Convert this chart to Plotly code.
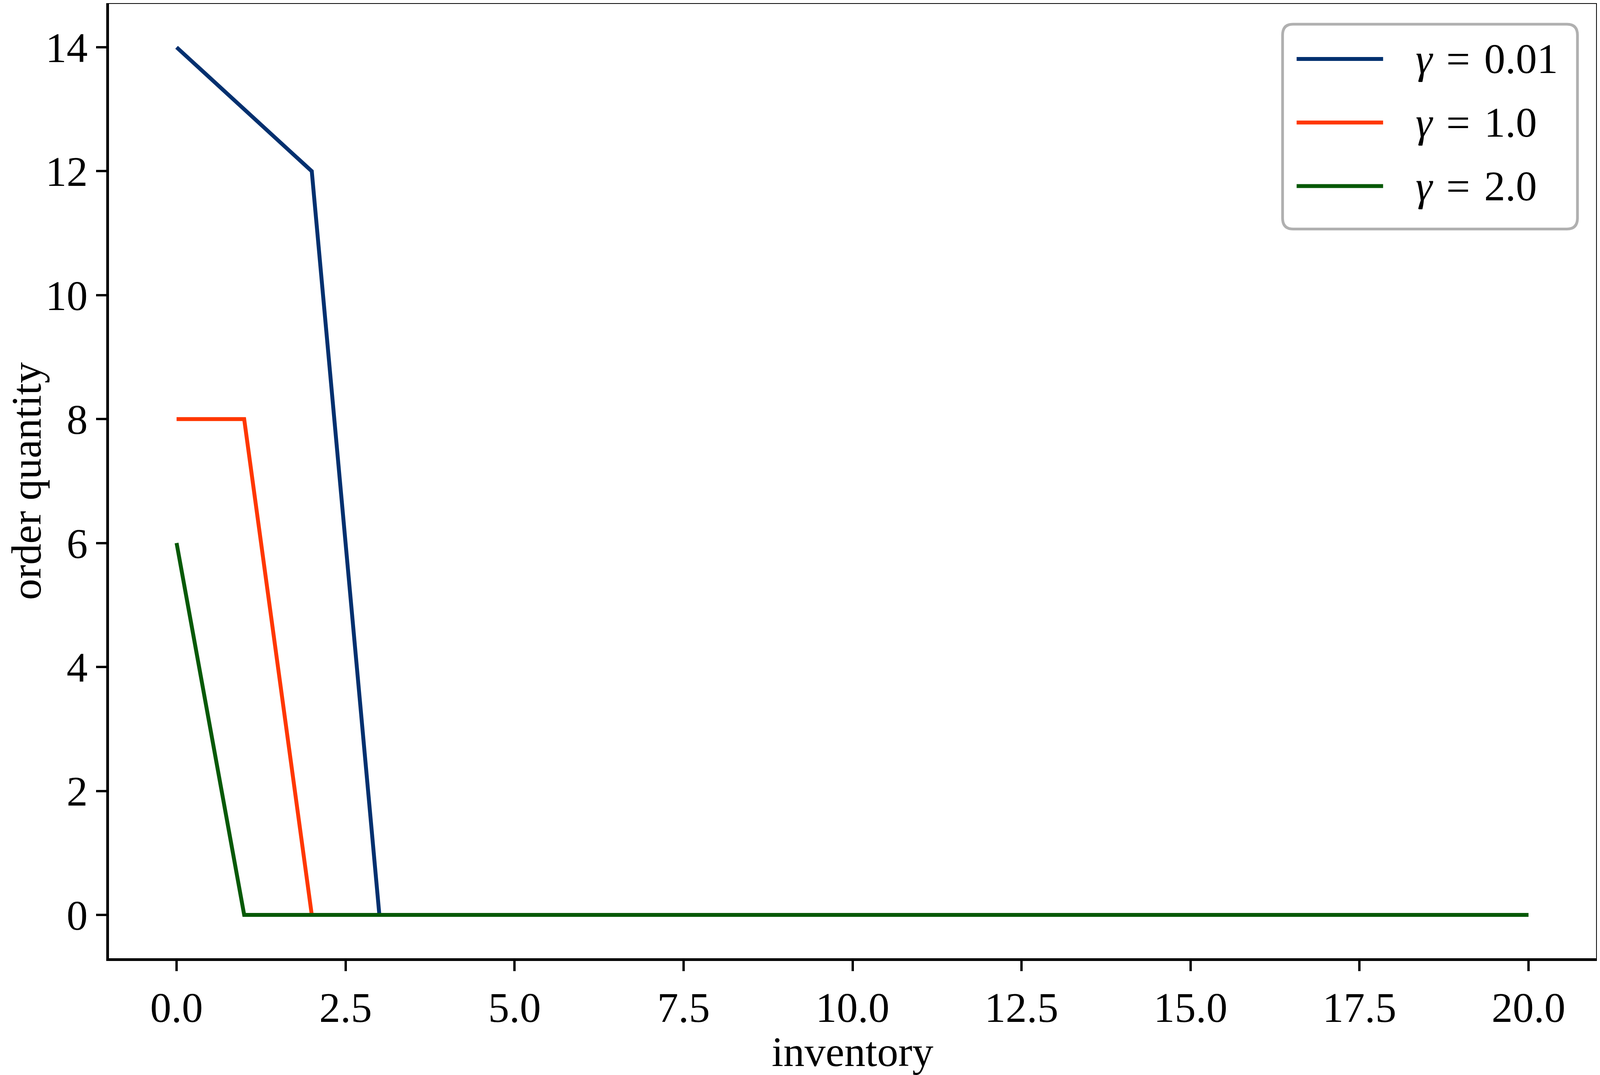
import plotly.graph_objects as go

# policy: order quantity per inventory level
inventory = list(range(21))
order_g001 = [14, 13, 12, 0] + [0] * 17
order_g1 = [8, 8, 0] + [0] * 18
order_g2 = [6, 0] + [0] * 19

series_labels = ["<i>γ</i>\u2004=\u20040.01", "<i>γ</i>\u2004=\u20041.0", "<i>γ</i>\u2004=\u20042.0"]
series_colors = ["#02306f", "#ff3700", "#075907"]
x_ticks = [0, 2.5, 5, 7.5, 10, 12.5, 15, 17.5, 20]
y_ticks = [0, 2, 4, 6, 8, 10, 12, 14]

# positions measured on the 4552x2753 reference; the browser viewport is
# 4096 css px wide, so horizontal sizes are squeezed by SX. body margin is 8px.
SX = 4096 / 4552
BODY = 8
FIG_W, FIG_H = 4096 - BODY, 2753 - BODY
L, R, T, B = 310, 4541, 8, 2454
FONT = "Liberation Serif"
FS = 108


def px_x(p):
    return (p - L) / (R - L)


def px_y(p):
    return (B - p) / (B - T)


fig = go.Figure()
for ys, name, color in zip([order_g001, order_g1, order_g2], series_labels, series_colors):
    fig.add_trace(go.Scatter(x=inventory, y=ys, mode="lines", name=name,
                             line=dict(color=color, width=10), showlegend=False))

# legend drawn by hand so it gets matplotlib's long samples and rounded frame
x0, x1, y0, y1 = px_x(3649), px_x(4488), px_y(60), px_y(585)
rx, ry = 30 / (R - L), 28 / (B - T)
path = (f"M{x0 + rx},{y0} L{x1 - rx},{y0} Q{x1},{y0} {x1},{y0 - ry} "
        f"L{x1},{y1 + ry} Q{x1},{y1} {x1 - rx},{y1} L{x0 + rx},{y1} "
        f"Q{x0},{y1} {x0},{y1 + ry} L{x0},{y0 - ry} Q{x0},{y0} {x0 + rx},{y0} Z")
fig.add_shape(type="path", path=path, xref="paper", yref="paper",
              line=dict(color="#b0b0b0", width=7), fillcolor="rgba(255,255,255,0.8)")
for i, (name, color) in enumerate(zip(series_labels, series_colors)):
    row = px_y(149 + 163 * i)
    fig.add_shape(type="line", xref="paper", yref="paper", x0=px_x(3689), x1=px_x(3935),
                  y0=row, y1=row, line=dict(color=color, width=10))
    fig.add_annotation(x=px_x(4025), y=row, xref="paper", yref="paper", text=name,
                       showarrow=False, xanchor="left", yanchor="middle",
                       font=dict(family=FONT, size=FS, color="black"))

axis_common = dict(showline=True, mirror=True, linecolor="black", linewidth=7,
                   ticks="outside", ticklen=26, tickwidth=6, tickcolor="black",
                   showgrid=False, zeroline=False,
                   tickfont=dict(family=FONT, size=FS, color="black"))
fig.update_xaxes(range=[-1, 21], tickvals=x_ticks, tickformat=".1f",
                 title=dict(text="inventory", standoff=42,
                            font=dict(family=FONT, size=FS, color="black")),
                 **axis_common)
fig.update_yaxes(range=[-0.7, 14.7], tickvals=y_ticks,
                 title=dict(text="order quantity", standoff=40,
                            font=dict(family=FONT, size=FS, color="black")),
                 **axis_common)

left = L * SX - BODY
right = FIG_W - (R * SX - BODY)
fig.update_layout(width=FIG_W, height=FIG_H,
                  plot_bgcolor="white", paper_bgcolor="white",
                  margin=dict(l=left, r=right, t=2, b=FIG_H - (B - BODY) - 2 + 2,
                              autoexpand=False))

fig.write_html("out.html")
